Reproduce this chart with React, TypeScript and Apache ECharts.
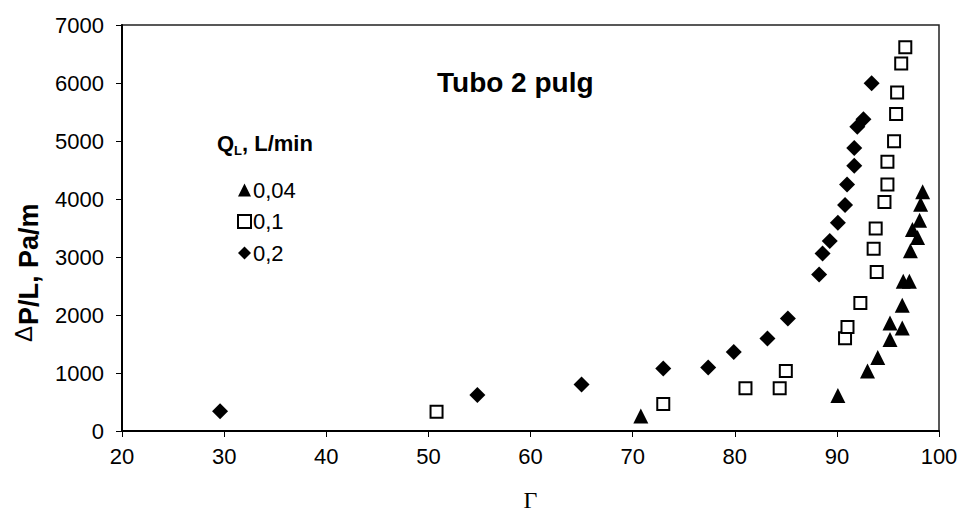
import React, { useEffect, useRef } from 'react';
import * as echarts from 'echarts';

const seriesNames = ['0,04', '0,1', '0,2'];

// Q_L = 0,04 (triangles)
const triX = [70.8, 90.1, 93.0, 94.0, 95.2, 95.2, 96.4, 96.4, 96.5, 97.1, 97.2, 97.9, 97.4, 98.1, 98.2, 98.4];
const triY = [260, 610, 1035, 1266, 1577, 1863, 1777, 2169, 2583, 2583, 3106, 3337, 3475, 3635, 3911, 4124];

// Q_L = 0,1 (open squares)
const sqX = [50.8, 73.0, 81.05, 84.4, 85.0, 90.8, 91.04, 92.3, 93.9, 93.6, 93.8, 94.66, 94.95, 94.95, 95.6, 95.8, 95.9, 96.3, 96.7];
const sqY = [330, 466, 737, 737, 1035, 1600, 1795, 2208, 2741, 3144, 3492, 3948, 4248, 4641, 4995, 5464, 5838, 6338, 6615];

// Q_L = 0,2 (diamonds)
const diaX = [29.6, 54.8, 65.0, 73.0, 77.4, 79.9, 83.2, 85.2, 88.26, 88.6, 89.3, 90.1, 90.8, 91.0, 91.7, 91.7, 92.0, 92.6, 93.4];
const diaY = [340, 620, 800, 1077, 1094, 1363, 1594, 1939, 2698, 3060, 3275, 3589, 3897, 4251, 4572, 4878, 5245, 5373, 5994];

const SANS = "'Liberation Sans', Arial, sans-serif";
const SERIF = "'Liberation Serif', 'Times New Roman', serif";

const zip = (xs: number[], ys: number[]) => xs.map((x, i) => [x, ys[i]]);

export default function App() {
  const ref = useRef<HTMLDivElement>(null);
  useEffect(() => {
    document.body.style.margin = '0';
    const chart = echarts.init(ref.current!, null, { renderer: 'svg' });
    chart.setOption({
      animation: false,
      backgroundColor: '#fff',
      grid: {
        left: 122, right: 23, top: 25, bottom: 83,
        containLabel: false, outerBoundsMode: 'none',
        show: true, borderColor: '#222', borderWidth: 1.5, backgroundColor: 'transparent'
      },
      xAxis: {
        type: 'value', min: 20, max: 100, interval: 10,
        name: 'Γ', nameLocation: 'middle', nameGap: 58,
        nameTextStyle: { fontFamily: SERIF, fontSize: 24, lineHeight: 22, color: '#000', verticalAlign: 'top' },
        axisLine: { lineStyle: { color: '#000', width: 2 } },
        axisTick: { inside: false, length: 6, lineStyle: { color: '#000', width: 1 } },
        axisLabel: { fontFamily: SANS, fontSize: 22, color: '#000', margin: 14, formatter: (v: number) => String(v) },
        splitLine: { show: false }
      },
      yAxis: {
        type: 'value', min: 0, max: 7000, interval: 1000,
        axisLine: { show: true, lineStyle: { color: '#000', width: 2 } },
        axisTick: { show: true, inside: false, length: 6, lineStyle: { color: '#000', width: 1 } },
        axisLabel: { fontFamily: SANS, fontSize: 22, color: '#000', margin: 18, formatter: (v: number) => String(v) },
        splitLine: { show: false }
      },
      legend: {
        orient: 'vertical', left: 232, top: 174,
        itemWidth: 13, itemHeight: 13, itemGap: 9.5,
        textStyle: { fontFamily: SANS, fontSize: 22, color: '#000', lineHeight: 22, padding: [0, 0, 0, -3] },
        data: [
          { name: seriesNames[0], icon: 'triangle' },
          { name: seriesNames[1], icon: 'rect' },
          { name: seriesNames[2], icon: 'diamond' }
        ]
      },
      graphic: [
        {
          type: 'text', left: 437, top: 68,
          style: { text: 'Tubo 2 pulg', fontFamily: SANS, fontSize: 28, fontWeight: 'bold', fill: '#000' }
        },
        {
          type: 'text', x: 217, y: 143,
          style: { text: 'Q', fontFamily: SANS, fontSize: 22, fontWeight: 'bold', fill: '#000', align: 'left', verticalAlign: 'middle', textAlign: 'left', textVerticalAlign: 'middle' }
        },
        {
          type: 'text', x: 234, y: 150,
          style: { text: 'L', fontFamily: SANS, fontSize: 13, fontWeight: 'bold', fill: '#000', align: 'left', verticalAlign: 'middle', textAlign: 'left', textVerticalAlign: 'middle' }
        },
        {
          type: 'text', x: 242, y: 143,
          style: { text: ', L/min', fontFamily: SANS, fontSize: 22, fontWeight: 'bold', fill: '#000', align: 'left', verticalAlign: 'middle', textAlign: 'left', textVerticalAlign: 'middle' }
        },
        {
          type: 'group', x: 28, y: 264, rotation: Math.PI / 2,
          children: [
            {
              type: 'text', x: -78, y: -5,
              style: { text: 'Δ', fontFamily: SANS, fontSize: 24, fill: '#000', align: 'left', verticalAlign: 'middle', textAlign: 'left', textVerticalAlign: 'middle' }
            },
            {
              type: 'text', x: -61, y: 1,
              style: { text: 'P/L, Pa/m', fontFamily: SANS, fontSize: 27, fontWeight: 'bold', fill: '#000', align: 'left', verticalAlign: 'middle', textAlign: 'left', textVerticalAlign: 'middle' }
            }
          ]
        }
      ],
      series: [
        {
          name: seriesNames[0], type: 'scatter', symbol: 'triangle', symbolSize: 15,
          itemStyle: { color: '#000', opacity: 1 },
          data: zip(triX, triY)
        },
        {
          name: seriesNames[1], type: 'scatter', symbol: 'rect', symbolSize: 12,
          itemStyle: { color: '#fff', borderColor: '#000', borderWidth: 2, opacity: 1 },
          data: zip(sqX, sqY)
        },
        {
          name: seriesNames[2], type: 'scatter', symbol: 'diamond', symbolSize: 16,
          itemStyle: { color: '#000', opacity: 1 },
          data: zip(diaX, diaY)
        }
      ]
    });
    return () => chart.dispose();
  }, []);
  return <div ref={ref} style={{ width: 962, height: 514 }} />;
}
